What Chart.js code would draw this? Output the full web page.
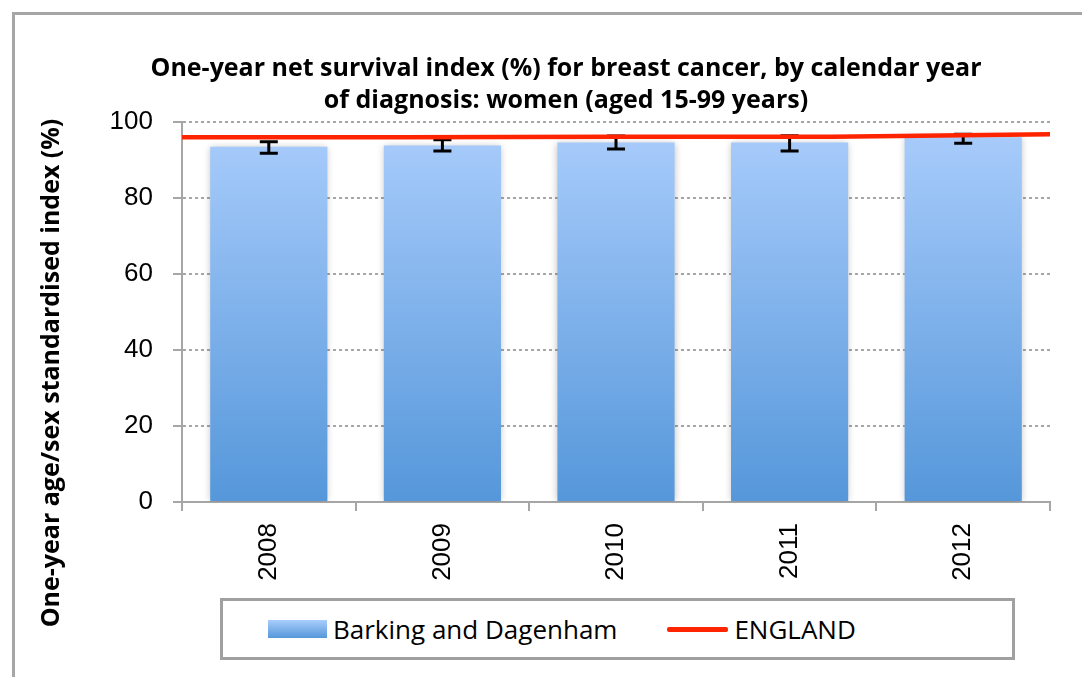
<!DOCTYPE html>
<html>
<head>
<meta charset="utf-8">
<script src="https://cdn.jsdelivr.net/npm/chart.js@4.4.1/dist/chart.umd.min.js"></script>
<style>
    body { margin: 0; background: #fff; }
    #wrap { position: relative; width: 1082px; height: 677px; overflow: hidden; background: #fff; }
    #frame { position: absolute; left: 12px; top: 12px; width: 1200px; height: 800px; border-left: 3px solid #a6a6a6; border-top: 3px solid #a6a6a6; }
    #chart { position: absolute; left: 0; top: 0; }
    .legend { position: absolute; left: 220px; top: 598px; width: 795px; height: 62px; box-sizing: border-box; border: 3px solid #a0a0a0; background: #fff;
        display: flex; align-items: center; padding-left: 45px; font-family: 'Open Sans'; font-size: 26px; color: #000; }
    .swatch { width: 59px; height: 18px; background: linear-gradient(#aacdfc, #5597da); margin-right: 6px; }
    .redline { width: 61px; height: 5px; background: #ff2400; border-radius: 2px; margin-left: 50px; margin-right: 6px; }
</style>
</head>
<body>
<div id="wrap">
    <div id="frame"></div>
    <canvas id="chart" width="1082" height="677"></canvas>
    <div class="legend">
        <span class="swatch"></span><span id="leg-local"></span>
        <span class="redline"></span><span id="leg-eng"></span>
    </div>
</div>
<script>
// DATEN
const years = ['2008', '2009', '2010', '2011', '2012'];
const localIndex = [93.5, 93.8, 94.6, 94.6, 96.0];
const lowerCI = [91.8, 92.4, 92.9, 92.4, 94.4];
const upperCI = [94.8, 95.3, 96.3, 96.4, 96.8];
const englandIndex = [96.0, 96.0, 96.1, 96.1, 96.8];
const yTicks = [0, 20, 40, 60, 80, 100];
const seriesNames = ['Barking and Dagenham', 'ENGLAND'];
const titleLines = ['One-year net survival index (%) for breast cancer, by calendar year', 'of diagnosis: women (aged 15-99 years)'];
const yTitle = 'One-year age/sex standardised index (%)';

document.getElementById('leg-local').textContent = seriesNames[0];
document.getElementById('leg-eng').textContent = seriesNames[1];

const gridGrey = '#a6a6a6';

// Schatten für die Balken, danach Fehlerbalken (die Linie liegt darüber)
const errorBars = {
    id: 'errorBars',
    beforeDatasetDraw(chart, args) {
        if (args.index !== 0) return;
        const ctx = chart.ctx;
        ctx.save();
        ctx.shadowColor = 'rgba(0, 0, 0, 0.25)';
        ctx.shadowBlur = 7;
    },
    afterDatasetDraw(chart, args) {
        if (args.index !== 0) return;
        const ctx = chart.ctx;
        ctx.restore();
        const x = chart.scales.x;
        const y = chart.scales.y;
        ctx.save();
        ctx.strokeStyle = '#000';
        ctx.lineWidth = 3;
        years.forEach((yr, i) => {
            const px = x.getPixelForValue(i);
            const top = y.getPixelForValue(upperCI[i]);
            const bot = y.getPixelForValue(lowerCI[i]);
            ctx.beginPath();
            ctx.moveTo(px, top); ctx.lineTo(px, bot);
            ctx.moveTo(px - 9, top); ctx.lineTo(px + 9, top);
            ctx.moveTo(px - 9, bot); ctx.lineTo(px + 9, bot);
            ctx.stroke();
        });
        ctx.restore();
    }
};

// Titel und Achsentitel
const titles = {
    id: 'titles',
    afterDraw(chart) {
        const ctx = chart.ctx;
        const area = chart.chartArea;
        ctx.save();
        ctx.fillStyle = '#000';
        ctx.font = 'bold 25px "Open Sans"';
        ctx.textAlign = 'center';
        ctx.textBaseline = 'alphabetic';
        const cx = (area.left + area.right) / 2 - 50;
        titleLines.forEach((t, i) => ctx.fillText(t, cx, 76 + i * 32));
        ctx.translate(59, 373);
        ctx.rotate(-Math.PI / 2);
        ctx.fillText(yTitle, 0, 0);
        ctx.restore();
    }
};

const canvas = document.getElementById('chart');
new Chart(canvas, {
    type: 'bar',
    data: {
        labels: years,
        datasets: [{
            label: seriesNames[0],
            data: localIndex,
            xAxisID: 'x',
            order: 1,
            grouped: false,
            barPercentage: 1,
            categoryPercentage: 0.675,
            backgroundColor(c) {
                const area = c.chart.chartArea;
                if (!area) return '#7fb0ec';
                const g = c.chart.ctx.createLinearGradient(0, area.bottom, 0, area.top);
                g.addColorStop(0, '#5597da');
                g.addColorStop(1, '#aacdfc');
                return g;
            }
        }, {
            type: 'line',
            label: seriesNames[1],
            data: englandIndex.map((v, i) => ({ x: Number(years[i]), y: v })),
            xAxisID: 'x2',
            order: 0,
            borderColor: '#ff2400',
            borderWidth: 4.5,
            pointRadius: 0,
            tension: 0
        }]
    },
    options: {
        responsive: false,
        animation: false,
        devicePixelRatio: 1,
        layout: { padding: { left: 0, top: 122, right: 32, bottom: 75 } },
        plugins: {
            legend: { display: false },
            tooltip: { enabled: false },
            title: { display: false }
        },
        scales: {
            x: {
                type: 'category',
                offset: true,
                afterFit(s) { s.height = 100; },
                grid: { offset: true, drawOnChartArea: false, color: gridGrey, lineWidth: 2, tickLength: 9 },
                border: { color: gridGrey, width: 2 },
                ticks: { color: '#000', font: { family: 'Liberation Sans', size: 26 }, minRotation: 90, maxRotation: 90, padding: 12, autoSkip: false }
            },
            x2: {
                type: 'linear',
                display: false,
                offset: false,
                grid: { offset: false },
                min: Number(years[0]),
                max: Number(years[years.length - 1])
            },
            y: {
                min: yTicks[0],
                max: yTicks[yTicks.length - 1],
                afterFit(s) { s.width = 182; },
                afterBuildTicks(s) { s.ticks = yTicks.map(v => ({ value: v })); },
                grid: { color: gridGrey, lineWidth: 2, tickLength: 9, tickBorderDash: [1, 0] },
                border: { color: gridGrey, width: 2, dash: [3, 3] },
                ticks: { color: '#000', font: { family: 'Liberation Sans', size: 26 }, padding: 20 }
            }
        }
    },
    plugins: [errorBars, titles]
});
</script>
</body>
</html>
